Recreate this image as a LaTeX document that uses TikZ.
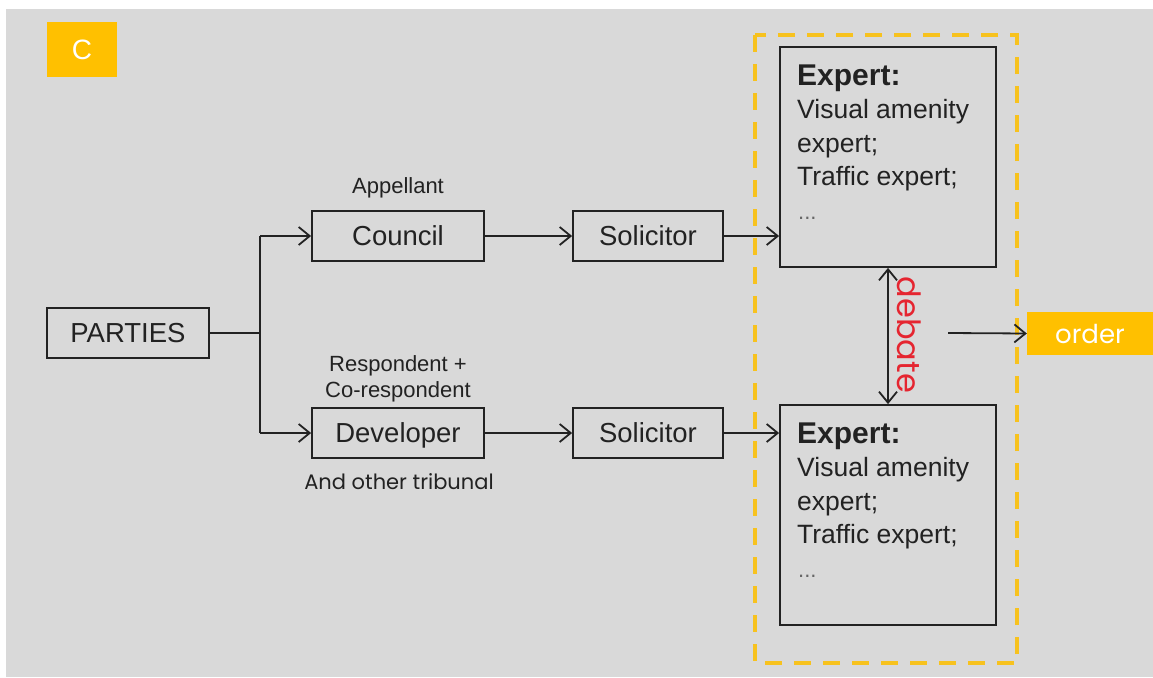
\documentclass[tikz,border=0pt]{standalone}
\usepackage{fontspec}
\setmainfont{Liberation Sans}
\newfontfamily\gothic{Poppins}
\usetikzlibrary{arrows.meta}
\definecolor{bggrey}{HTML}{D9D9D9}
\definecolor{amber}{HTML}{FFC000}
\definecolor{dashamber}{HTML}{F7C21E}
\definecolor{ink}{HTML}{222222}
\definecolor{debred}{HTML}{E52530}
\definecolor{dotgrey}{HTML}{666666}

% lines of text inside an expert box: #1 name prefix, #2 left x, #3 baseline of heading
\newcommand\expertlines[3]{%
  \node[lbl, anchor=base west, font=\fontsize{30}{34}\selectfont\bfseries] (#1h) at (#2,#3) {Expert:};
  \node[lbl, anchor=base west, font=\listfont] (#1a) at (#2,#3+33.5) {Visual amenity};
  \node[lbl, anchor=base west, font=\listfont] (#1b) at (#2,#3+67) {expert;};
  \node[lbl, anchor=base west, font=\listfont] (#1c) at (#2,#3+100.5) {Traffic expert;};
  \node[lbl, anchor=base west, font=\fontsize{22}{26}\selectfont, text=dotgrey] (#1d) at (#2+1,#3+134) {...};
}
\newcommand\listfont{\fontsize{26.5}{30}\selectfont}

\begin{document}
\begin{tikzpicture}[x=1pt, y=-1pt,
  lbl/.style={inner sep=0pt, text=ink},
  box/.style={draw=ink, line width=1.8pt, inner sep=0pt, text=ink,
              font=\fontsize{27.5}{30}\selectfont, text height=19.7pt, text depth=0pt,
              minimum height=50pt},
  expertbox/.style={draw=ink, line width=1.8pt, minimum width=216pt, minimum height=220pt, inner sep=0pt},
  wire/.style={draw=ink, line width=1.8pt},
  conn/.style={wire, -{Straight Barb[length=11pt, width=18pt, line width=1.8pt]}},
  biconn/.style={wire, {Straight Barb[length=11pt, width=18pt, line width=1.8pt]}-{Straight Barb[length=11pt, width=18pt, line width=1.8pt]}},
  tag/.style={fill=amber, inner sep=0pt, text=white},
  note/.style={inner sep=0pt, text=ink, font=\fontsize{22}{26}\selectfont}
]
\useasboundingbox (0,0) rectangle (1153,677);
% canvas
\fill[white] (0,0) rectangle (1153,677);
\fill[bggrey] (6,9) rectangle (1153,677);

% corner tag
\node[tag, minimum width=70pt, minimum height=55pt, font=\fontsize{28}{32}\selectfont] (ctag) at (82,49.5) {C};

% parties and their representatives
\node[box, minimum width=162pt] (parties) at (128,333) {PARTIES};
\node[box, minimum width=172pt] (council) at (398,236) {Council};
\node[box, minimum width=172pt] (developer) at (398,433) {Developer};
\node[box, minimum width=150pt] (sol1) at (648,236) {Solicitor};
\node[box, minimum width=150pt] (sol2) at (648,433) {Solicitor};

\node[note, anchor=base] (appellant) at (398,193) {Appellant};
\node[note, anchor=base] (resp) at (398,371) {Respondent +};
\node[note, anchor=base] (coresp) at (398,397) {Co-respondent};
\node[note, anchor=base, font=\gothic\fontsize{21}{25}\selectfont] (tribunal) at (399,489) {And other tribunal};

% expert panel
\draw[dashamber, line width=4pt, dash pattern=on 17pt off 12pt] (755,35) rectangle (1017,663);
\node[expertbox] (exp1) at (888,157) {};
\node[expertbox] (exp2) at (888,515) {};
\expertlines{ea}{797}{85}
\expertlines{eb}{797}{443}

% outcome
\node[tag, minimum width=126pt, minimum height=43pt, font=\gothic\fontsize{26}{30}\selectfont] (order) at (1090,333.5) {order};
\node[inner sep=0pt, text=debred, rotate=-90, font=\gothic\fontsize{32}{36}\selectfont] (debate) at (909,335) {debate};

% connectors
\coordinate (split) at (260,333);
\coordinate (splittop) at (260,236);
\coordinate (splitbot) at (260,433);
\coordinate (panelout) at (948,333);
\draw[wire] (parties.east) -- (split);
\draw[wire] (splittop) -- (splitbot);
\draw[conn] (splittop) -- (council.west);
\draw[conn] (splitbot) -- (developer.west);
\draw[conn] (council.east) -- (sol1.west);
\draw[conn] (developer.east) -- (sol2.west);
\draw[conn] (sol1.east) -- (sol1.east -| exp1.west);
\draw[conn] (sol2.east) -- (sol2.east -| exp2.west);
\draw[biconn] (exp1.south) -- (exp2.north);
\draw[conn] (panelout) -- (order.west);
\end{tikzpicture}
\end{document}
